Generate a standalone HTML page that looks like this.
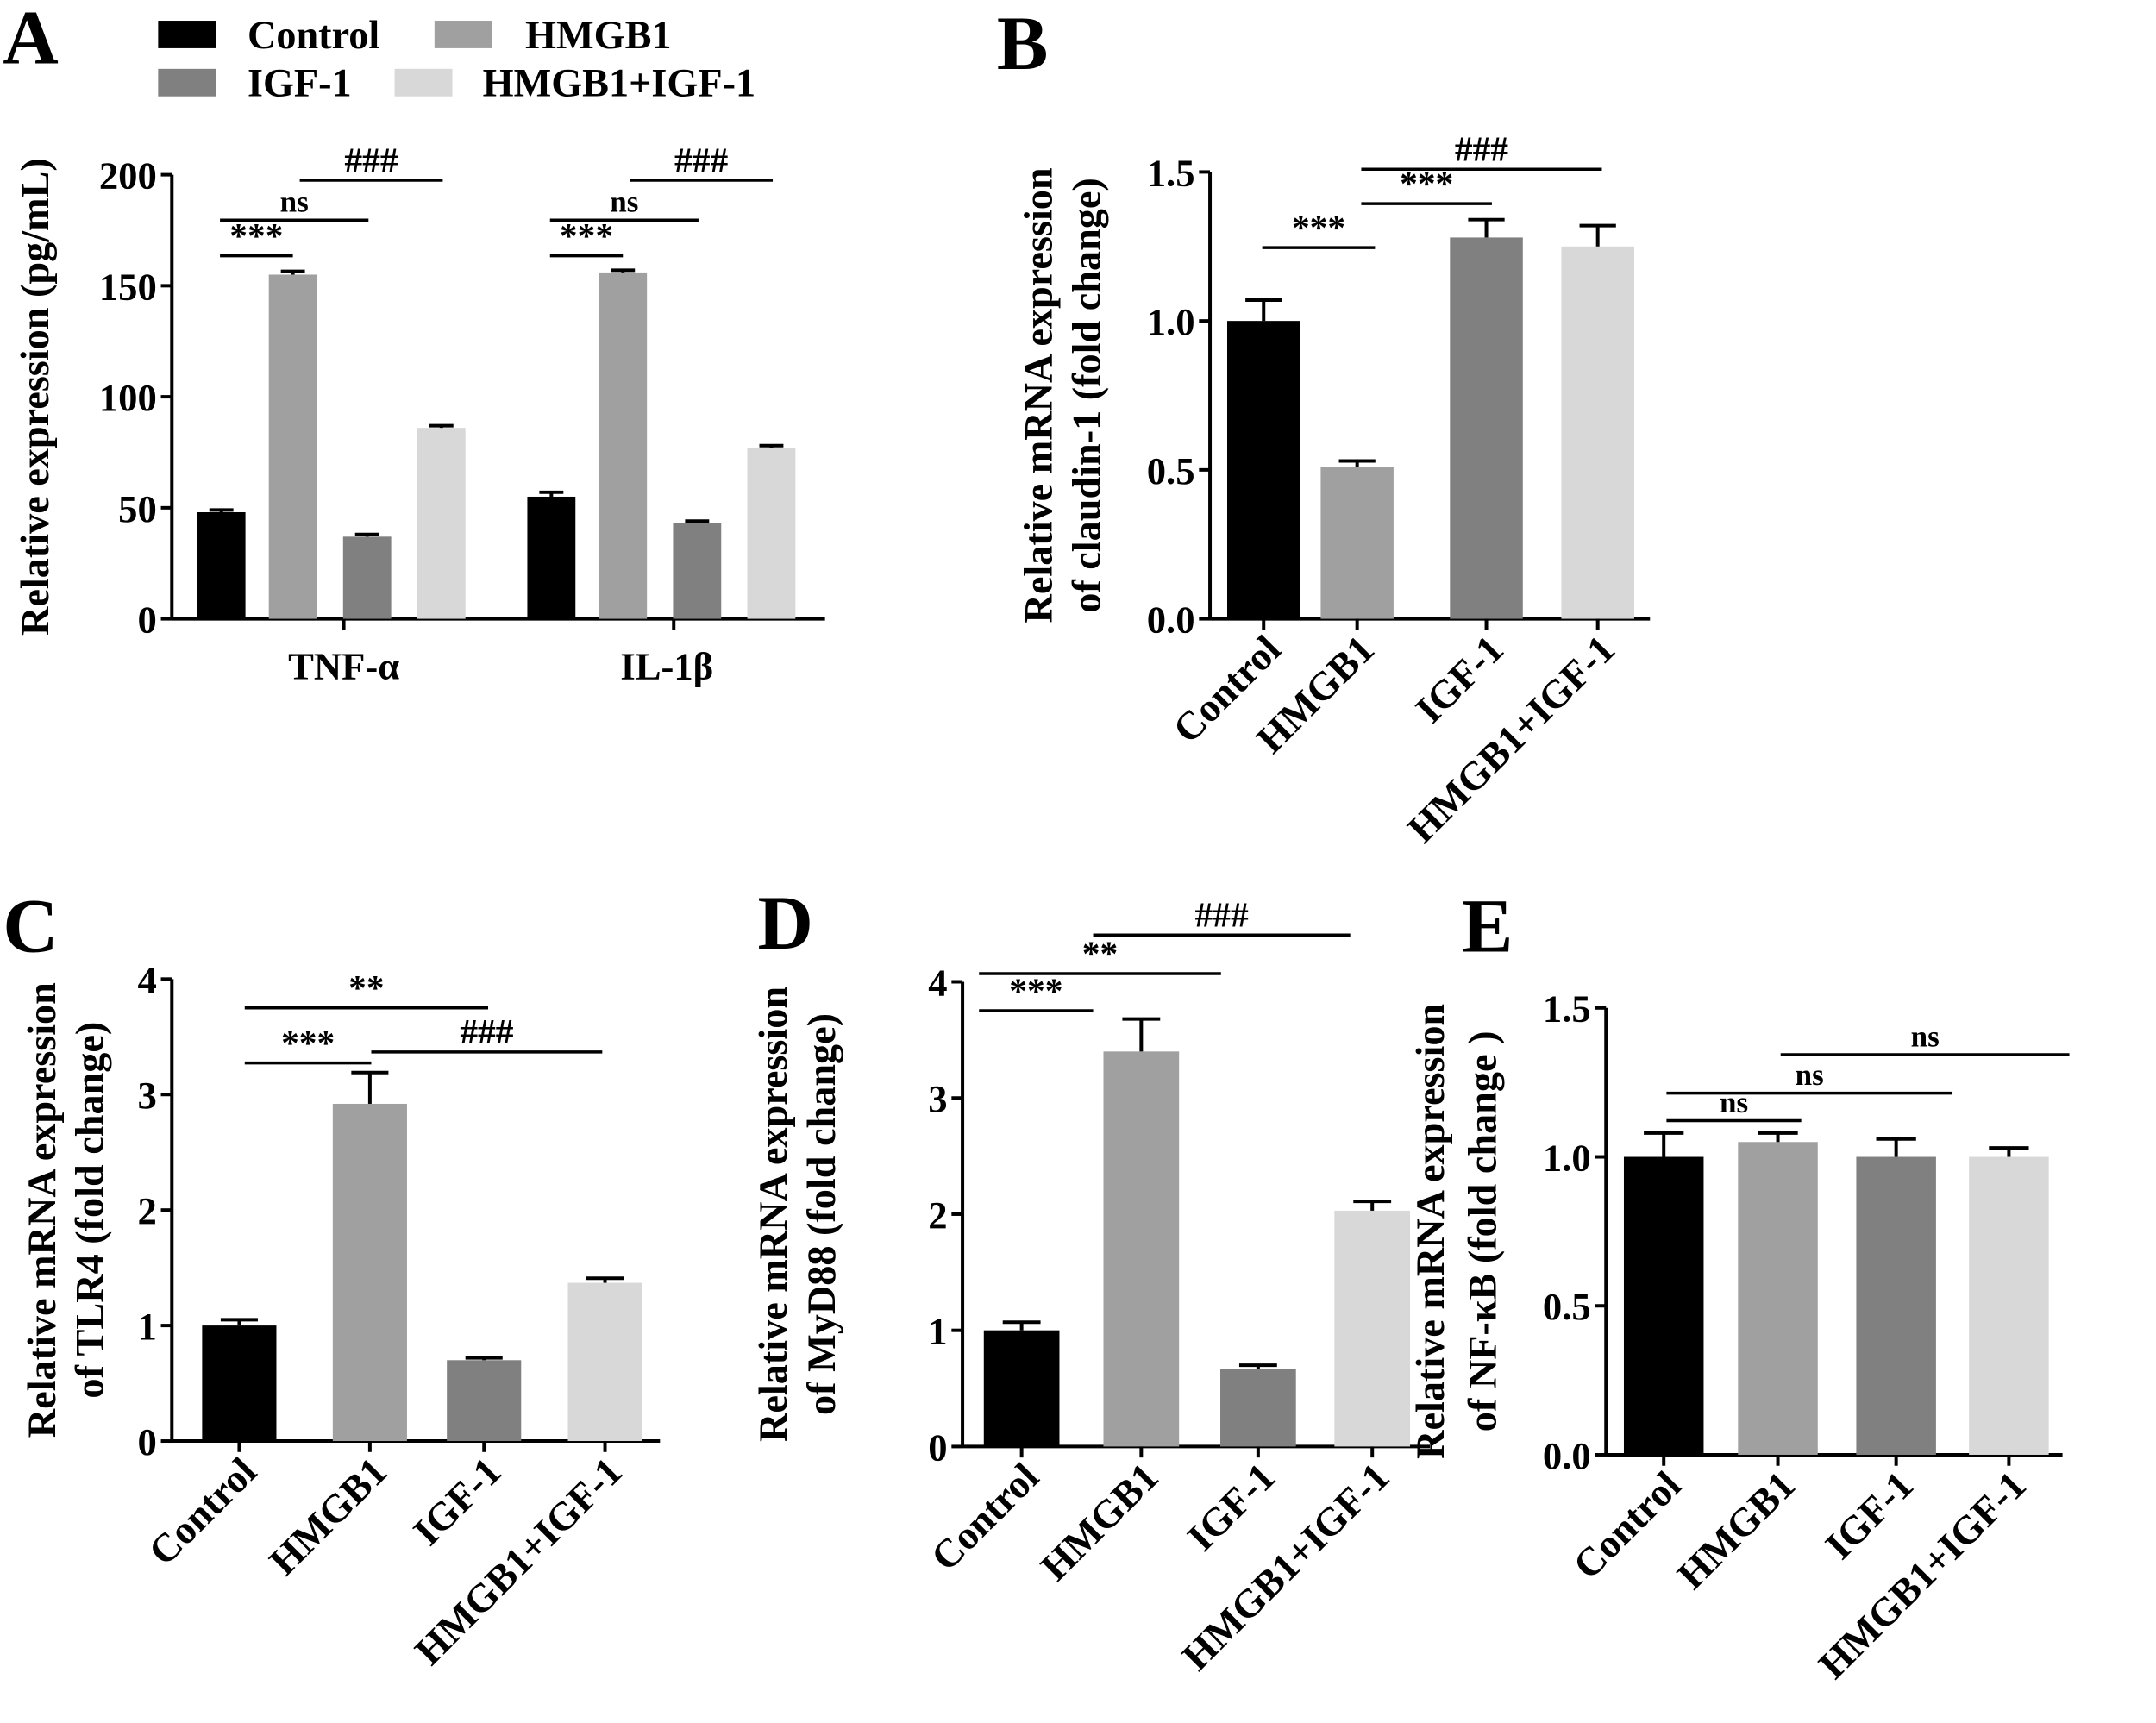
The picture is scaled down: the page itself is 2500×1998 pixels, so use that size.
<!DOCTYPE html>
<html><head><meta charset="utf-8"><style>
html,body{margin:0;padding:0;background:#fff}
svg{display:block}
text{font-family:"Liberation Serif",serif;font-weight:bold;fill:#000}
</style></head><body>
<svg id="fig" width="2500" height="1998" viewBox="0 0 1568 1253" xmlns="http://www.w3.org/2000/svg"></svg>
<script>
const groups = ["Control","HMGB1","IGF-1","HMGB1+IGF-1"];
const colors = ["#000000","#a0a0a0","#808080","#d8d8d8"];
// Panel A
const aCategories = ["TNF-α","IL-1β"];
const aValues = [[48,155,37,86],[55,156,43,77]];
const aErrors = [[1,1.5,1,1],[2,1,1,1]];
const aTicks = [0,50,100,150,200];
// Panel B
const bValues = [1.0,0.51,1.28,1.25];
const bErrors = [0.07,0.02,0.06,0.07];
const bTicks = ["0.0","0.5","1.0","1.5"];
// Panel C
const cValues = [1.0,2.92,0.7,1.37];
const cErrors = [0.05,0.27,0.02,0.04];
const cTicks = ["0","1","2","3","4"];
// Panel D
const dValues = [1.0,3.4,0.67,2.03];
const dErrors = [0.07,0.28,0.03,0.08];
const dTicks = ["0","1","2","3","4"];
// Panel E
const eValues = [1.0,1.05,1.0,1.0];
const eErrors = [0.08,0.03,0.06,0.03];
const eTicks = ["0.0","0.5","1.0","1.5"];

const svg = document.getElementById('fig');
const NS = "http://www.w3.org/2000/svg";
function el(tag, attrs, parent, txt){
  const e = document.createElementNS(NS, tag);
  for (const k in attrs) e.setAttribute(k, attrs[k]);
  if (txt !== undefined) e.textContent = txt;
  (parent||svg).appendChild(e);
  return e;
}
function panel(name){
  const g = el('g', {});
  
  
  return g;
}
function axes(g, x0, y0, yTop, xEnd, ticks, maxV, ylabel1, ylabel2, o1, o2){
  const ys = v => y0 - (v/maxV)*(y0-yTop);
  const ax = el('line',{x1:x0,y1:y0+1,x2:x0,y2:yTop,stroke:'#000','stroke-width':2.5},g);
   
  const bx = el('line',{x1:x0,y1:y0,x2:xEnd,y2:y0,stroke:'#000','stroke-width':2.5},g);
   
  ticks.forEach(t=>{
    const v = parseFloat(t), y = ys(v);
    el('line',{x1:x0-8,y1:y,x2:x0,y2:y,stroke:'#000','stroke-width':2.5},g);
    const tl = el('text',{x:x0-11,y:y+10,'text-anchor':'end','font-size':28},g,t);
     
  });
  const cy = (y0+yTop)/2;
  const l1 = el('text',{x:0,y:0,'text-anchor':'middle','font-size':29,transform:`translate(${x0+o1},${cy}) rotate(-90)`},g,ylabel1);
   
  if (ylabel2){
    const l2 = el('text',{x:0,y:0,'text-anchor':'middle','font-size':29,transform:`translate(${x0+o2},${cy}) rotate(-90)`},g,ylabel2);
     
  }
  return ys;
}
function bar(g, xc, w, v, e, color, ys, y0){
  const r = el('rect',{x:xc-w/2,y:ys(v),width:w,height:y0-ys(v),fill:color},g);
   
  const ye = ys(v+e);
  el('line',{x1:xc,y1:ys(v),x2:xc,y2:ye,stroke:'#000','stroke-width':2.5},g);
  el('line',{x1:xc-w/4,y1:ye,x2:xc+w/4,y2:ye,stroke:'#000','stroke-width':2.5},g);
}
function sig(g, x1, x2, y, label){
  const l = el('line',{x1:x1,y1:y,x2:x2,y2:y,stroke:'#000','stroke-width':2.2},g);
   
  const t = el('text',{x:(x1+x2)/2,y:y-6,'text-anchor':'middle','font-size':label==='ns'?22:26},g,label);
   
}
function letter(g, x, y, s){
  const t = el('text',{x:x,y:y,'font-size':56},g,s);
   
}
function rotLabels(g, centers, y){
  centers.forEach((c,i)=>{
    const t = el('text',{x:0,y:0,'text-anchor':'end','font-size':29,transform:`translate(${c+14},${y}) rotate(-45)`},g,groups[i]);
     
  });
}
// ----- Panel A
(function(){
  const g = panel('panel-a');
  letter(g, 2, 46, 'A');
  const legPos = [[115,15,180],[316,15,382],[115,50,180],[287,50,351]];
  legPos.forEach((p,i)=>{
    const r = el('rect',{x:p[0],y:p[1],width:42,height:20,fill:colors[i]},g);
     
    const t = el('text',{x:p[2],y:p[1]+20,'font-size':29},g,groups[i]);
     
  });
  const y0=450, ys = axes(g,125,y0,127,600,aTicks.map(String),200,'Relative expression (pg/mL)',null,-90,0);
  const offs=[-89,-37,17,71], centersG=[250,490];
  aCategories.forEach((c,gi)=>{
    const cx = centersG[gi];
    aValues[gi].forEach((v,i)=>bar(g,cx+offs[i],35,v,aErrors[gi][i],colors[i],ys,y0));
    el('line',{x1:cx,y1:y0,x2:cx,y2:y0+8,stroke:'#000','stroke-width':2.5},g);
    const t = el('text',{x:cx+(gi?-5:0),y:y0+44,'text-anchor':'middle','font-size':28},g,c);
     
    sig(g,cx-90,cx-37,186,'***');
    sig(g,cx-90,cx+18,160,'ns');
    sig(g,cx-32,cx+72,131,'###');
  });
})();
function fourBar(name, L, x0, y0, yTop, xEnd, centers, w, vals, errs, ticks, maxV, lab2, sigs, lx, ly, o1, o2){
  const g = panel(name);
  letter(g, lx, ly, L);
  const ys = axes(g,x0,y0,yTop,xEnd,ticks,maxV,'Relative mRNA expression',lab2,o1,o2);
  vals.forEach((v,i)=>{
    bar(g,centers[i],w,v,errs[i],colors[i],ys,y0);
    el('line',{x1:centers[i],y1:y0,x2:centers[i],y2:y0+8,stroke:'#000','stroke-width':2.5},g);
  });
  rotLabels(g, centers, y0+24);
  sigs.forEach(s=>sig(g,s[0],s[1],s[2],s[3]));
}
fourBar('panel-b','B',880,450,125,1200,[919,987,1081,1162],53,bValues,bErrors,bTicks,1.5,'of claudin-1 (fold change)',
  [[918,1000,180,'***'],[990,1085,148,'***'],[990,1165,123,'###']],725,50,-115,-80);
fourBar('panel-c','C',125,1048,712,480,[174,269,352,440],54,cValues,cErrors,cTicks,4,'of TLR4 (fold change)',
  [[178,270,773,'***'],[178,355,733,'**'],[270,438,765,'###']],2,692,-85,-50);
fourBar('panel-d','D',700,1052,714,1040,[743,830,915,998],55,dValues,dErrors,dTicks,4,'of MyD88 (fold change)',
  [[712,795,735,'***'],[712,888,708,'**'],[795,982,680,'###']],551,690,-128,-93);
fourBar('panel-e','E',1168,1058,733,1500,[1210,1293,1379,1461],58,eValues,eErrors,eTicks,1.5,'of NF-κB (fold change )',
  [[1212,1310,815,'ns'],[1212,1420,795,'ns'],[1295,1505,767,'ns']],1063,692,-118,-80);
</script>
</body></html>
